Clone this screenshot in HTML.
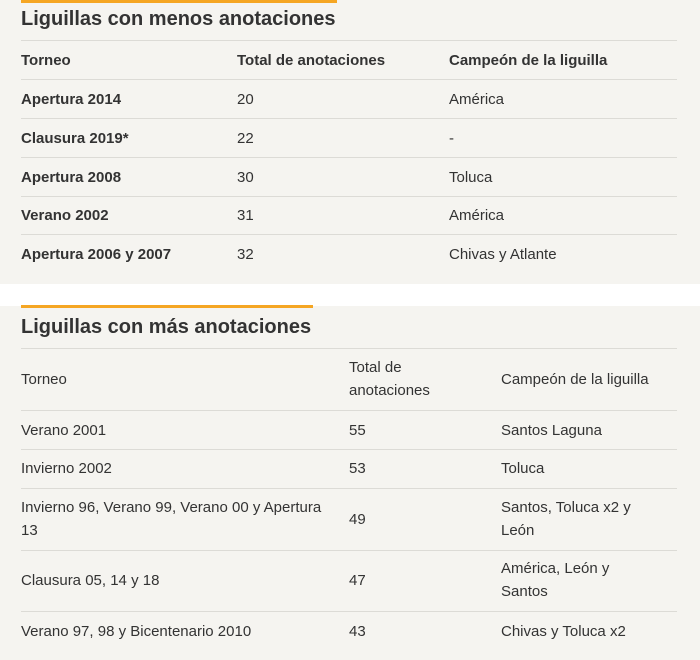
<!DOCTYPE html>
<html><head><meta charset="utf-8"><style>
body{margin:0;width:700px;height:660px;background:#fff;font-family:"Liberation Sans",sans-serif;color:#333;overflow:hidden;position:relative}
.panel{position:absolute;left:0;width:700px;background:#f5f4f0}
.bar{position:absolute;height:3px;background:#f5a623}
.t{position:absolute;white-space:nowrap;font-size:15px;line-height:23px}
.h{position:absolute;font-size:20px;font-weight:bold;color:#333;white-space:nowrap}
.ln{position:absolute;left:21px;width:656px;height:1px;background:#dcdbd6}
b{font-weight:bold}
</style></head><body>
<div class="panel" style="top:0;height:284px"></div>
<div class="panel" style="top:306px;height:354px"></div>
<div class="bar" style="left:21px;top:0;width:316px"></div>
<div class="bar" style="left:21px;top:305px;width:292px"></div>
<div class="h" style="left:21px;top:8px">Liguillas con menos anotaciones</div>
<div class="h" style="left:21px;top:316px">Liguillas con más anotaciones</div>
<div id="c"></div>
<script>
const menosRows=[["Apertura 2014","20","América"],["Clausura 2019*","22","-"],["Apertura 2008","30","Toluca"],["Verano 2002","31","América"],["Apertura 2006 y 2007","32","Chivas y Atlante"]];
const menosY=[99,138,177,215,254];
const masRows=[["Verano 2001","55","Santos Laguna"],["Invierno 2002","53","Toluca"],["Invierno 96, Verano 99, Verano 00 y Apertura<br>13","49","Santos, Toluca x2 y<br>León"],["Clausura 05, 14 y 18","47","América, León y<br>Santos"],["Verano 97, 98 y Bicentenario 2010","43","Chivas y Toluca x2"]];
const masY=[430,468,519,580,631];
const c=document.getElementById('c');
function txt(x,y,html,bold,name,lines){
 const d=document.createElement('div');d.className='t';
 
 
 d.style.left=x+'px';d.style.top=(y-11.5*(lines||1))+'px';
 if(bold)d.style.fontWeight='bold';d.innerHTML=html;c.appendChild(d);
}
function line(y){const d=document.createElement('div');d.className='ln';d.style.top=y+'px';
 
 
 c.appendChild(d);}
[40,79,118,157,196,234].forEach(line);
[348,410,449,488,550,611].forEach(line);
txt(21,60,'Torneo',true,'header-torneo');txt(237,60,'Total de anotaciones',true,'header-total');txt(449,60,'Campeón de la liguilla',true,'header-campeon');
menosRows.forEach((r,i)=>{txt(21,menosY[i],r[0],true,'torneo-cell');txt(237,menosY[i],r[1],false,'total-cell');txt(449,menosY[i],r[2],false,'campeon-cell');});
txt(21,379,'Torneo',false,'header-torneo');txt(349,379,'Total de<br>anotaciones',false,'header-total',2);txt(501,379,'Campeón de la liguilla',false,'header-campeon');
masRows.forEach((r,i)=>{const n=r[0].includes('<br>')?2:1,m=r[2].includes('<br>')?2:1;
 txt(21,masY[i],r[0],false,'torneo-cell',n);txt(349,masY[i],r[1],false,'total-cell');txt(501,masY[i],r[2],false,'campeon-cell',m);});
</script>
</body></html>
